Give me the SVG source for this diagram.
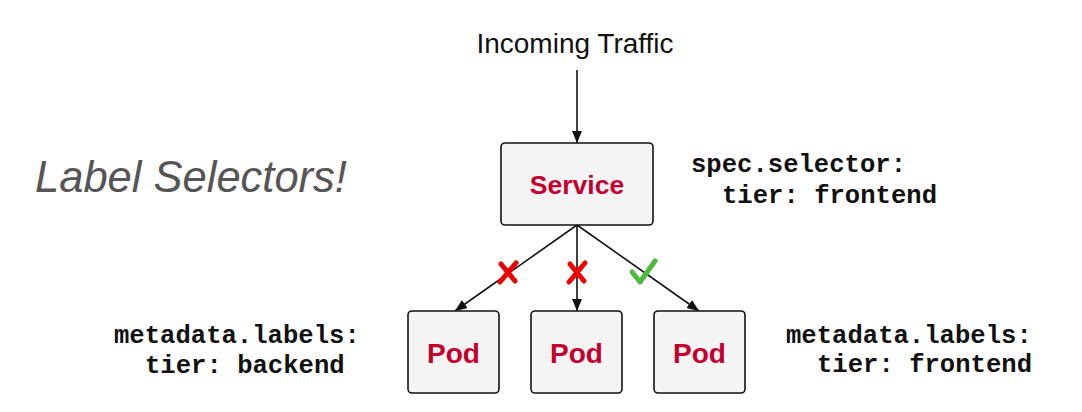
<svg xmlns="http://www.w3.org/2000/svg" width="1082" height="412" viewBox="0 0 1082 412">
<style>
.box{fill:#f4f4f4;stroke:#111;stroke-width:1.6}
.lbl{font-family:"Liberation Sans",Arial,sans-serif;font-weight:bold;fill:#c4002e;text-anchor:middle}
.code{font-family:"Liberation Mono","Courier New",monospace;font-weight:bold;font-size:25.6px;fill:#111}
.conn{stroke:#111;stroke-width:1.6;fill:none;marker-end:url(#arr)}
.x{stroke:#f00000;stroke-width:5;stroke-linecap:round;fill:none}
</style>
<defs>
<marker id="arr" viewBox="0 0 12 10" refX="12" refY="5" markerWidth="12" markerHeight="10" markerUnits="userSpaceOnUse" orient="auto">
<path d="M0,0 L12,5 L0,10 Z" fill="#111"/>
</marker>
</defs>
<rect width="1082" height="412" fill="#fff"/>
<text x="575" y="53" font-family="Liberation Sans,Arial,sans-serif" font-size="28" fill="#111" text-anchor="middle">Incoming Traffic</text>
<text x="35" y="192" font-family="Liberation Sans,Arial,sans-serif" font-size="43.5" font-style="italic" fill="#555">Label Selectors!</text>
<g id="connectors">
<line class="conn" x1="577" y1="70" x2="577" y2="143"/>
<line class="conn" x1="577" y1="225" x2="455" y2="311"/>
<line class="conn" x1="577" y1="225" x2="577" y2="311"/>
<line class="conn" x1="577" y1="225" x2="699" y2="311"/>
<path class="x" d="M501,264 L515,281 M516,263 L500,282"/>
<path class="x" d="M570,264 L584,281 M585,263 L569,282"/>
<path d="M632,272 L640,282 L655,261" stroke="#4cbb3a" stroke-width="5" stroke-linecap="round" stroke-linejoin="round" fill="none"/>
</g>
<g id="service">
<rect class="box" x="501" y="143" width="152" height="82" rx="4"/>
<text class="lbl" x="577" y="194" font-size="26.5">Service</text>
</g>
<g id="pod1">
<rect class="box" x="408" y="311" width="91" height="82" rx="4"/>
<text class="lbl" x="453.5" y="363" font-size="28">Pod</text>
</g>
<g id="pod2">
<rect class="box" x="531" y="311" width="91" height="82" rx="4"/>
<text class="lbl" x="576.5" y="363" font-size="28">Pod</text>
</g>
<g id="pod3">
<rect class="box" x="654" y="311" width="91" height="82" rx="4"/>
<text class="lbl" x="699.5" y="363" font-size="28">Pod</text>
</g>
<g id="spec-selector">
<text class="code" x="691" y="172">spec.selector:</text>
<text class="code" x="722" y="203">tier: frontend</text>
</g>
<g id="backend-labels">
<text class="code" x="114" y="343">metadata.labels:</text>
<text class="code" x="145" y="373">tier: backend</text>
</g>
<g id="frontend-labels">
<text class="code" x="786" y="343">metadata.labels:</text>
<text class="code" x="817" y="372">tier: frontend</text>
</g>
</svg>
